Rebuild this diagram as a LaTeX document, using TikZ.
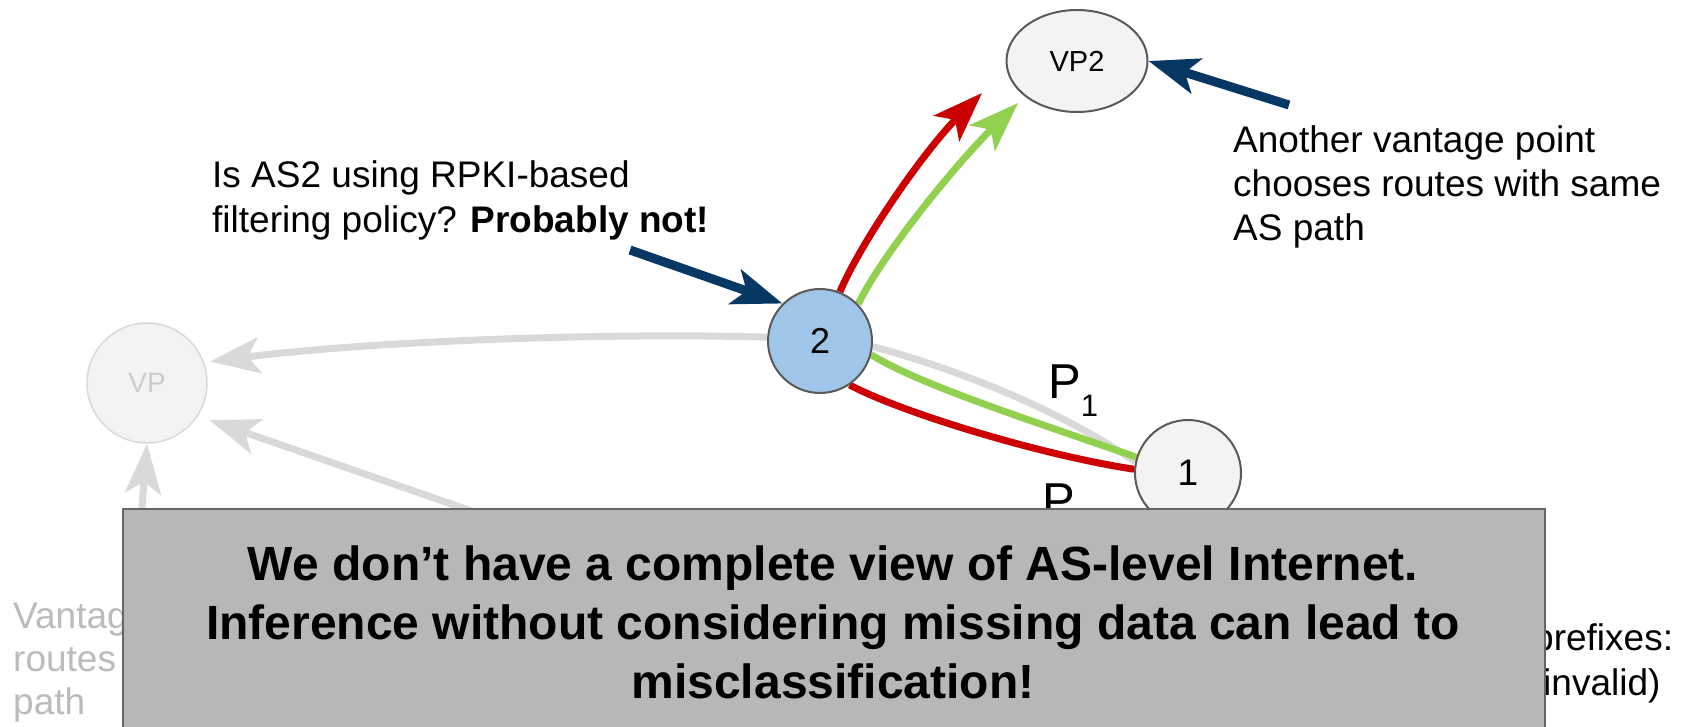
\documentclass[tikz,border=0pt]{standalone}
\usepackage{fontspec}
\setmainfont{Liberation Sans}
\usetikzlibrary{arrows.meta,shapes.geometric}
\definecolor{navy}{HTML}{073763}
\definecolor{rred}{HTML}{CC0000}
\definecolor{lgreen}{HTML}{92D050}
\definecolor{fadegray}{HTML}{D9D9D9}
\definecolor{nodefill}{HTML}{F3F3F3}
\definecolor{asblue}{HTML}{9FC5E8}
\definecolor{bordergray}{HTML}{595959}
\definecolor{boxgray}{HTML}{B7B7B7}
\definecolor{boxborder}{HTML}{666666}
\definecolor{fadetext}{HTML}{BBBBBB}
\definecolor{vptext}{HTML}{CCCCCC}
\pgfdeclarelayer{bg}
\pgfsetlayers{bg,main}
\begin{document}
\begin{tikzpicture}[x=1pt,y=-1pt,
  asnode/.style={circle,draw=bordergray,line width=2pt,fill=nodefill,inner sep=0pt},
  tipp/.style={-{Stealth[length=50pt,width=36pt,inset=12pt]}},
  route/.style={line width=7pt},
  fade/.style={draw=fadegray,line width=7pt},
  pointer/.style={draw=navy,line width=9pt,tipp},
  note/.style={anchor=base west,align=left,inner sep=0pt,font=\fontsize{37}{44}\selectfont}
]
\useasboundingbox (0,0) rectangle (1688,727);

% nodes
\node[asnode,fill=asblue,minimum size=104pt,font=\fontsize{36}{36}\selectfont] (n2) at (820,341) {2};
\node[asnode,minimum size=106pt,font=\fontsize{37}{37}\selectfont] (n1) at (1188,473) {1};
\node[ellipse,draw=bordergray,line width=2pt,fill=nodefill,minimum width=141pt,minimum height=102pt,inner sep=0pt,font=\fontsize{29}{29}\selectfont] (vp2) at (1077,61) {VP2};
\node[circle,draw=fadegray,line width=1.5pt,fill=nodefill,minimum size=120pt,inner sep=0pt,text=vptext,font=\fontsize{28}{28}\selectfont] (vp) at (147,383) {VP};

\coordinate (redtip) at (982,93);
\coordinate (greentip) at (1018,103);
\coordinate (g1) at (532,532);
\coordinate (g2) at (139,545);
\coordinate (b1) at (630,250);
\coordinate (b2) at (1289,105);

\begin{pgfonlayer}{bg}
\draw[fade,tipp,shorten >=6pt] (n2.176) .. controls (650,333) and (400,338) .. (vp.20);
\draw[fade,tipp,shorten >=12pt] (g1) -- (vp.-33);
\draw[fade,tipp] (g2) -- (vp.south);
\draw[fade] (n2.-6) .. controls (960,370) and (1060,410) .. (n1.168);
\draw[route,lgreen] (n2.-15) .. controls (920,385) and (1030,420) .. (n1.163);
\draw[route,rred] (n2.-56) .. controls (900,412) and (1040,455) .. (n1.176);
\draw[route,rred,tipp] (n2.68) .. controls (862,240) and (925,150) .. (redtip);
\draw[route,lgreen,tipp] (n2.44) .. controls (882,255) and (955,165) .. (greentip);
\draw[pointer] (b1) -- (n2.135);
\draw[pointer] (b2) -- (vp2.east);
\end{pgfonlayer}

% labels (base anchor = baseline of the last line)
\node[anchor=base west,inner sep=0pt,font=\fontsize{49}{49}\selectfont] (p1) at (1048,398) {P\raisebox{-18pt}{\fontsize{31}{31}\selectfont 1}};
\node[anchor=base west,inner sep=0pt,font=\fontsize{49}{49}\selectfont] (p2) at (1042,517) {P};

\node[note,font=\fontsize{37}{45}\selectfont] (question) at (212,233) {Is AS2 using RPKI-based\\filtering policy? \textbf{Probably not!}};
\node[note] (another) at (1233,241) {Another vantage point\\chooses routes with same\\AS path};
\node[note,text=fadetext,font=\fontsize{37}{43}\selectfont] (vant) at (13,714) {Vantag\\routes\\path};
\node[note] (pref1) at (1533,650) {prefixes:};
\node[note] (pref2) at (1543,695) {invalid)};

% overlay box
\node[draw=boxborder,line width=1.5pt,fill=boxgray,anchor=north west,minimum width=1422pt,minimum height=232pt,inner sep=0pt] (box) at (122,508) {};
\node[align=center,inner sep=0pt,anchor=base,font=\bfseries\fontsize{48}{59}\selectfont] (msg) at (833,698) {We don’t have a complete view of AS-level Internet.\\Inference without considering missing data can lead to\\misclassification!};
\end{tikzpicture}
\end{document}
